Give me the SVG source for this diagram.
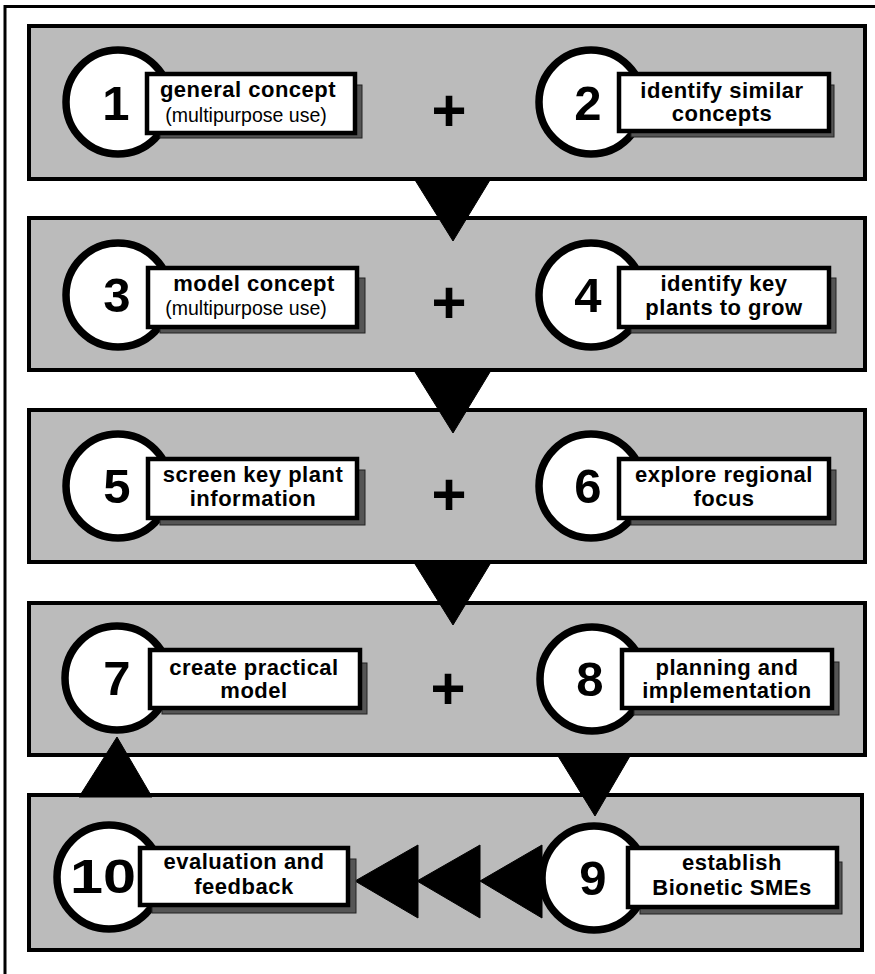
<svg xmlns="http://www.w3.org/2000/svg" width="875" height="974" viewBox="0 0 875 974">
<style>
.frame{fill:#fff;stroke:#000;stroke-width:3}
.panel{fill:#bbbbbb;stroke:#000;stroke-width:4}
.tri{fill:#000;stroke:#000;stroke-width:1;stroke-linejoin:round}
.circ{fill:#fff;stroke:#000;stroke-width:7.5}
.shadow{fill:#555;stroke:#222;stroke-width:1}
.box{fill:#fff;stroke:#000;stroke-width:4.5}
.num{font-family:"Liberation Sans",Arial,sans-serif;font-weight:bold;font-size:49px;text-anchor:middle;fill:#000}
.lb{font-family:"Liberation Sans",Arial,sans-serif;font-weight:bold;font-size:22px;letter-spacing:0.5px;text-anchor:middle;fill:#000}
.lr{font-family:"Liberation Sans",Arial,sans-serif;font-size:19.5px;text-anchor:middle;fill:#000}
.plus{font-family:"Liberation Sans",Arial,sans-serif;font-weight:bold;font-size:60px;text-anchor:middle;fill:#000}
</style>
<rect x="0" y="0" width="875" height="974" fill="#fff"/>
<rect class="frame" x="5" y="6.5" width="880" height="980"/>
<g id="panels">
<rect class="panel" x="29" y="26" width="836" height="153"/>
<rect class="panel" x="29" y="218" width="836" height="152"/>
<rect class="panel" x="29" y="410" width="836" height="152"/>
<rect class="panel" x="29" y="603" width="836" height="152"/>
<rect class="panel" x="29" y="795" width="833" height="155"/>
</g>
<g id="connectors">
<polygon class="tri" points="415,180 490,180 453,241"/>
<polygon class="tri" points="415,372 490,372 453,433"/>
<polygon class="tri" points="415,564 490,564 453,625"/>
<polygon class="tri" points="558,756 630,756 595,816"/>
<polygon class="tri" points="79,797 152,797 117,737"/>
<polygon class="tri" points="355,881 418,845 418,918"/>
<polygon class="tri" points="417,881 480,845 480,918"/>
<polygon class="tri" points="480,881 542,845 542,918"/>
</g>
<g id="plus-signs">
<text class="plus" x="449" y="131">+</text>
<text class="plus" x="449" y="323">+</text>
<text class="plus" x="449" y="515">+</text>
<text class="plus" x="448" y="709">+</text>
</g>
<g id="step1">
<circle class="circ" cx="118" cy="102" r="52"/>
<rect class="shadow" x="160" y="85" width="202" height="53"/>
<rect class="box" x="147" y="74" width="208" height="59"/>
<text class="num" x="116" y="120">1</text>
<text class="lb" x="248" y="97">general concept</text>
<text class="lr" x="246" y="122">(multipurpose use)</text>
</g>
<g id="step2">
<circle class="circ" cx="591" cy="102" r="52"/>
<rect class="shadow" x="631" y="85" width="203" height="52"/>
<rect class="box" x="619" y="74" width="210" height="57"/>
<text class="num" x="588" y="120">2</text>
<text class="lb" x="722" y="98">identify similar</text>
<text class="lb" x="722" y="121">concepts</text>
</g>
<g id="step3">
<circle class="circ" cx="118" cy="295" r="52"/>
<rect class="shadow" x="160" y="278" width="205" height="55"/>
<rect class="box" x="148" y="268" width="209" height="59"/>
<text class="num" x="117" y="312">3</text>
<text class="lb" x="254" y="291">model concept</text>
<text class="lr" x="246" y="315">(multipurpose use)</text>
</g>
<g id="step4">
<circle class="circ" cx="591" cy="295" r="52"/>
<rect class="shadow" x="631" y="278" width="205" height="55"/>
<rect class="box" x="619" y="268" width="210" height="59"/>
<text class="num" x="588" y="312">4</text>
<text class="lb" x="724" y="291">identify key</text>
<text class="lb" x="724" y="315">plants to grow</text>
</g>
<g id="step5">
<circle class="circ" cx="118" cy="486" r="52"/>
<rect class="shadow" x="160" y="470" width="205" height="55"/>
<rect class="box" x="148" y="459" width="209" height="59"/>
<text class="num" x="117" y="503">5</text>
<text class="lb" x="253" y="482">screen key plant</text>
<text class="lb" x="253" y="506">information</text>
</g>
<g id="step6">
<circle class="circ" cx="591" cy="486" r="52"/>
<rect class="shadow" x="631" y="470" width="205" height="55"/>
<rect class="box" x="619" y="459" width="210" height="59"/>
<text class="num" x="588" y="503">6</text>
<text class="lb" x="724" y="482">explore regional</text>
<text class="lb" x="724" y="506">focus</text>
</g>
<g id="step7">
<circle class="circ" cx="117" cy="678" r="52"/>
<rect class="shadow" x="162" y="663" width="205" height="51"/>
<rect class="box" x="150" y="650" width="210" height="58"/>
<text class="num" x="117" y="695">7</text>
<text class="lb" x="254" y="675">create practical</text>
<text class="lb" x="254" y="698">model</text>
</g>
<g id="step8">
<circle class="circ" cx="592" cy="679" r="52"/>
<rect class="shadow" x="634" y="662" width="205" height="53"/>
<rect class="box" x="622" y="650" width="210" height="58"/>
<text class="num" x="590" y="696">8</text>
<text class="lb" x="727" y="675">planning and</text>
<text class="lb" x="727" y="698">implementation</text>
</g>
<g id="step9">
<circle class="circ" cx="594" cy="878" r="52"/>
<rect class="shadow" x="640" y="862" width="202" height="52"/>
<rect class="box" x="628" y="848" width="209" height="59"/>
<text class="num" x="593" y="895">9</text>
<text class="lb" x="732" y="870">establish</text>
<text class="lb" x="732" y="895">Bionetic SMEs</text>
</g>
<g id="step10">
<circle class="circ" cx="109" cy="877" r="52"/>
<rect class="shadow" x="152" y="859" width="204" height="54"/>
<rect class="box" x="140" y="848" width="208" height="57"/>
<text class="num" x="103" y="893" textLength="66" lengthAdjust="spacingAndGlyphs">10</text>
<text class="lb" x="244" y="869">evaluation and</text>
<text class="lb" x="244" y="894">feedback</text>
</g>
</svg>
